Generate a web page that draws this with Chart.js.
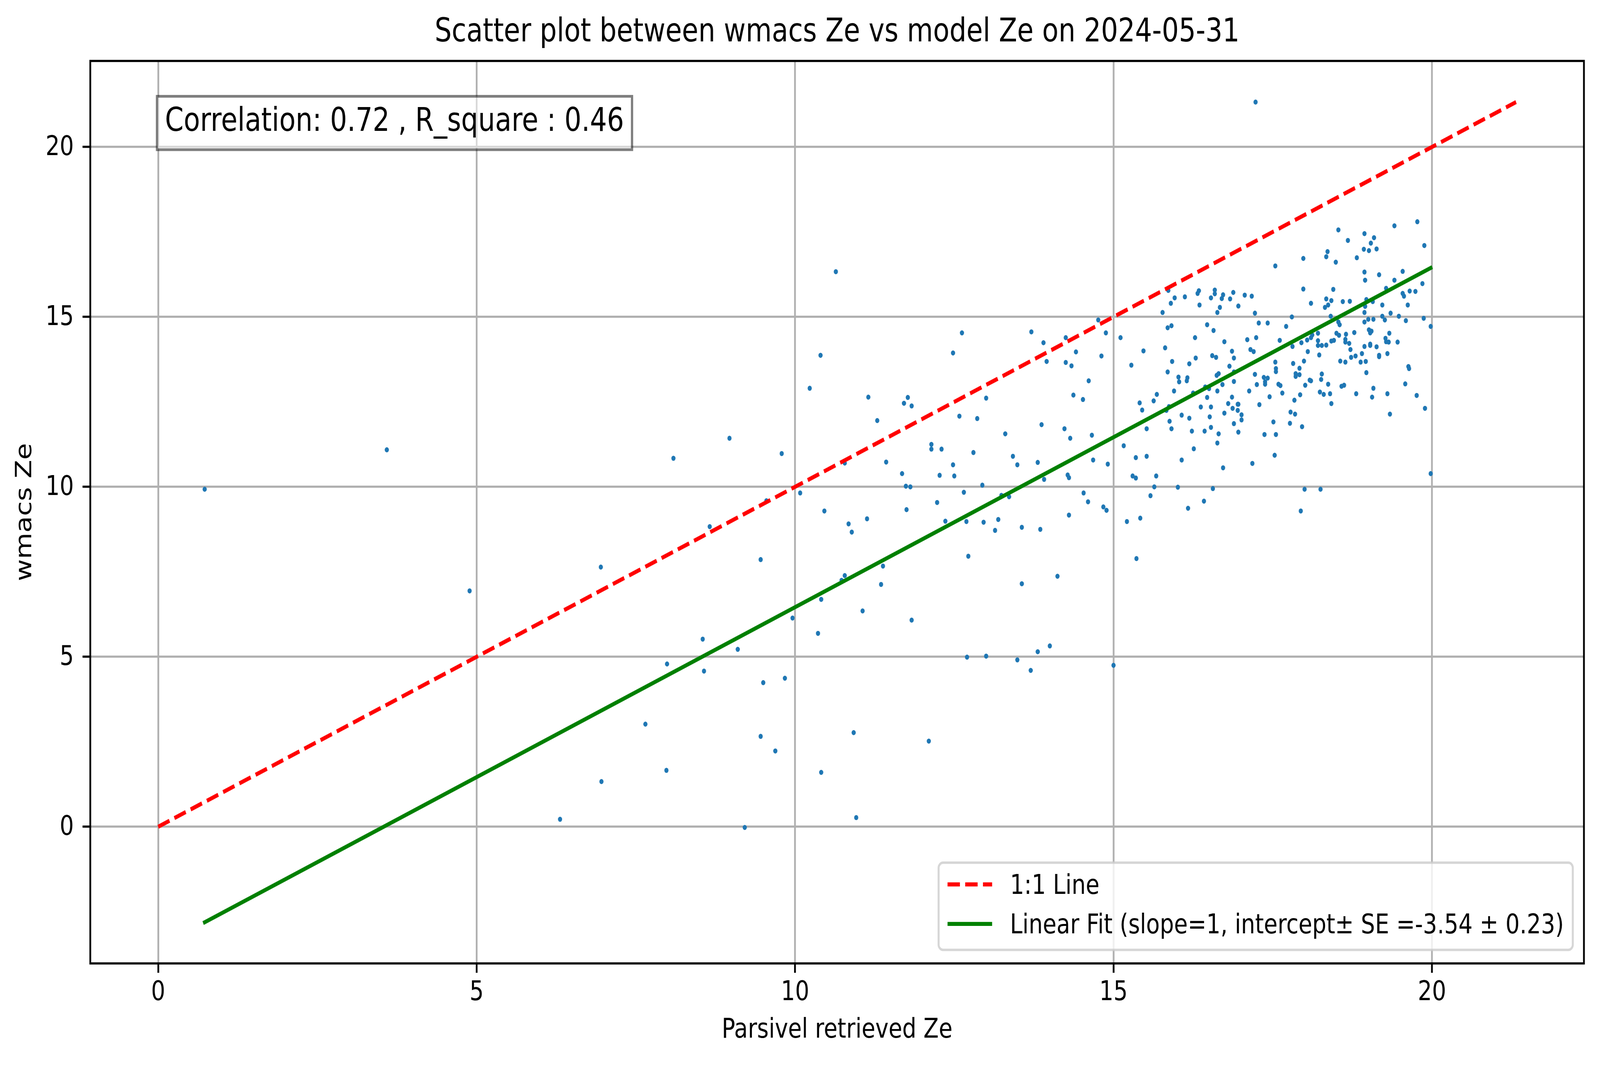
<!DOCTYPE html>
<html>
<head>
<meta charset="utf-8">
<title>Scatter plot between wmacs Ze vs model Ze on 2024-05-31</title>
<script src="https://cdn.jsdelivr.net/npm/chart.js@4.4.8/dist/chart.umd.min.js"></script>
<style>
  html, body { margin: 0; padding: 0; background: #fff; overflow: hidden; }
  canvas { display: block; }
</style>
</head>
<body>
<!-- drawn at the figure's own 4981x2726 size, then fitted to the window -->
<canvas id="myChart" width="4981" height="2726" style="width:100vw;height:100vh"></canvas>
<script>
  'use strict';

  // --- data ---
  const chartTitle = 'Scatter plot between wmacs Ze vs model Ze on 2024-05-31';
  const xAxisTitle = 'Parsivel retrieved Ze';
  const yAxisTitle = 'wmacs Ze';
  const noteText = 'Correlation: 0.72 , R_square : 0.46';
  const lineLabel = '1:1 Line';
  const fitLabel = 'Linear Fit (slope=1, intercept\u00b1 SE =-3.54 \u00b1 0.23)';

  const xTickValues = [0, 5, 10, 15, 20];
  const yTickValues = [0, 5, 10, 15, 20];

  // Parsivel retrieved Ze (x) and wmacs Ze (y), one entry per dot
  const parsivelZe = [
    // sparse points, left part
    0.73, 3.59, 4.89, 6.95, 8.09, 8.97, 8.66, 9.46, 9.55, 8.55, 9.10, 7.99, 8.57, 9.50, 7.65, 9.46, 9.69, 7.98, 6.96, 6.31, 9.21,
    // low points 10..14
    10.41, 9.96, 10.36, 11.06, 11.83, 9.84, 10.92, 12.10, 10.41, 10.96, 12.70, 13.00, 13.49, 13.70, 13.81, 14.00,
    // middle 10..14.7
    10.64, 10.40, 10.23, 9.79, 10.08, 10.46, 10.78, 10.84, 10.89, 11.13, 11.15, 11.29, 11.43, 11.38, 10.78, 10.73, 11.35,
    11.68, 11.74, 11.81, 11.75, 11.71, 11.77, 11.83, 12.14, 12.14, 12.30, 12.27, 12.23, 12.36, 12.48, 12.62, 12.58, 12.48,
    12.50, 12.65, 12.69, 12.72, 12.80, 12.86, 13.00, 12.94, 12.96, 13.14, 13.19, 13.24, 13.36, 13.30, 13.42, 13.49, 13.71,
    13.90, 13.95, 13.87, 13.81, 13.91, 13.56, 13.85, 13.56, 14.12, 14.25, 14.25, 14.34, 14.41, 14.37, 14.52, 14.61, 14.23,
    14.32, 14.28, 14.30, 14.53, 14.60, 14.30,
    // outliers right
    15.36, 15.00, 17.23,
    // dense cloud 14.7..17.7
    14.76, 14.88, 14.81, 14.66, 14.68, 14.91, 14.84, 14.89, 15.11, 15.28,
    15.47, 15.41, 15.45, 15.63, 15.68, 15.52, 15.16, 15.35, 15.52, 15.30,
    15.35, 15.67, 15.64, 15.58, 15.21, 15.42, 15.77, 15.86, 15.90, 15.96,
    16.12, 15.85, 15.91, 15.81, 15.92, 15.85, 15.95, 15.87, 15.83, 15.88,
    15.91, 16.07, 16.07, 16.01, 16.02, 16.03, 16.16, 16.15, 16.19, 16.19,
    16.23, 16.26, 16.17, 16.28, 16.29, 16.25, 16.32, 16.34, 16.35, 16.47,
    16.37, 16.44, 16.50, 16.47, 16.53, 16.51, 16.53, 16.43, 16.42, 16.56,
    16.53, 16.59, 16.59, 16.57, 16.55, 16.61, 16.63, 16.67, 16.70, 16.72,
    16.74, 16.62, 16.65, 16.71, 16.63, 16.65, 16.63, 16.72, 16.74, 16.80,
    16.83, 16.88, 16.96, 16.82, 16.86, 16.89, 16.89, 16.89, 16.86, 16.87,
    16.95, 16.96, 16.95, 17.01, 17.01, 16.89, 16.96, 17.06, 17.17, 17.22,
    17.10, 17.15, 17.20, 17.24, 17.28, 17.42, 17.22, 17.25, 17.13, 17.29,
    17.18, 17.36, 17.42, 17.38, 17.38, 17.45, 17.51, 17.37, 17.55, 17.53,
    17.54, 17.61, 17.54, 17.55, 17.55, 17.59, 17.62, 17.65,
    // dense cloud 17.7..20
    17.71, 17.80, 17.81, 17.82, 17.86, 17.86, 17.92, 17.92, 17.84, 17.78,
    17.85, 17.77, 17.93, 17.96, 17.94, 18.00, 17.98, 17.98, 17.95, 17.99,
    18.01, 18.05, 18.04, 18.10, 18.12, 18.10, 18.08, 18.10, 18.21, 18.21,
    18.21, 18.27, 18.23, 18.27, 18.26, 18.24, 18.30, 18.25, 18.34, 18.37,
    18.40, 18.42, 18.34, 18.37, 18.32, 18.34, 18.36, 18.42, 18.45, 18.41,
    18.49, 18.53, 18.42, 18.46, 18.50, 18.54, 18.53, 18.55, 18.60, 18.56,
    18.58, 18.62, 18.65, 18.64, 18.64, 18.70, 18.72, 18.64, 18.73, 18.68,
    18.71, 18.78, 18.80, 18.81, 18.82, 18.88, 18.90, 18.94, 18.96, 18.97,
    18.94, 18.93, 19.01, 19.04, 19.09, 19.13, 18.94, 18.95, 18.97, 18.95,
    18.94, 18.94, 19.00, 19.07, 19.08, 19.01, 19.05, 19.03, 19.03, 19.03,
    19.08, 19.06, 19.13, 19.17, 19.17, 19.17, 19.22, 19.22, 19.26, 19.28,
    19.27, 19.28, 19.32, 19.30, 19.30, 19.34, 19.35, 19.33, 19.41, 19.41,
    19.46, 19.48, 19.54, 19.54, 19.56, 19.62, 19.59, 19.65, 19.63, 19.64,
    19.58, 19.74, 19.77, 19.76, 19.85, 19.88, 19.87, 19.89, 19.98, 19.98
  ];
  const wmacsZe = [
    9.93, 11.09, 6.94, 7.64, 10.84, 11.43, 8.83, 7.86, 9.59, 5.52, 5.22, 4.79, 4.58, 4.24, 3.02, 2.66, 2.23, 1.66, 1.33, 0.22, -0.02,
    6.69, 6.14, 5.69, 6.35, 6.08, 4.37, 2.77, 2.52, 1.60, 0.27, 4.99, 5.02, 4.91, 4.60, 5.15, 5.32,
    16.33, 13.87, 12.90, 10.98, 9.82, 9.29, 10.70, 8.91, 8.67, 9.06, 12.64, 11.95, 10.73, 7.67, 7.39, 7.25, 7.13,
    10.39, 10.02, 10.00, 9.33, 12.46, 12.63, 12.38, 11.25, 11.11, 11.11, 10.34, 9.54, 8.99, 13.94, 14.53, 12.08, 10.65,
    10.32, 9.84, 8.98, 7.96, 11.01, 12.01, 12.61, 10.05, 8.96, 8.72, 9.04, 9.75, 9.71, 11.56, 10.90, 10.65, 14.56,
    14.24, 13.69, 11.83, 10.72, 10.22, 8.81, 8.75, 7.15, 7.37, 14.39, 13.66, 13.56, 13.97, 12.70, 12.57, 13.12, 11.71,
    11.43, 10.35, 10.27, 9.82, 9.56, 9.17,
    7.89, 4.75, 21.32,
    14.91, 14.53, 13.85, 11.52, 10.79, 10.67, 9.41, 9.31, 14.39, 13.58,
    14.00, 12.47, 12.26, 12.53, 12.72, 11.71, 11.21, 10.86, 10.90, 10.32,
    10.26, 10.32, 10.00, 9.74, 8.98, 9.08, 15.13, 15.78, 15.40, 15.56,
    15.59, 14.68, 14.74, 14.09, 13.69, 13.38, 12.82, 12.36, 12.25, 11.93,
    11.71, 12.11, 10.79, 9.99, 13.23, 13.09, 13.21, 13.12, 13.62, 12.02,
    11.64, 11.12, 9.37, 14.39, 13.79, 12.76, 15.69, 15.77, 15.35, 14.77,
    12.35, 12.94, 12.89, 12.63, 12.35, 12.06, 11.75, 11.64, 9.58, 9.95,
    15.56, 15.68, 15.79, 14.60, 13.86, 13.81, 15.13, 15.28, 15.54, 15.65,
    14.27, 13.28, 13.33, 13.01, 12.82, 11.56, 11.29, 10.56, 12.17, 12.45,
    15.53, 15.72, 15.32, 13.55, 13.99, 13.79, 13.38, 13.10, 12.64, 12.31,
    12.43, 12.43, 12.25, 12.12, 11.97, 11.86, 11.61, 15.64, 15.61, 15.11,
    14.33, 14.04, 13.98, 14.39, 14.82, 14.82, 13.31, 13.01, 12.82, 12.42,
    10.69, 13.22, 13.20, 13.09, 13.02, 12.65, 11.91, 11.54, 11.54, 10.93,
    16.50, 14.31, 13.67, 13.48, 13.39, 13.02, 12.98, 12.76,
    14.72, 15.00, 14.13, 13.63, 13.33, 13.25, 13.49, 13.30, 12.55, 12.20,
    12.14, 11.87, 12.71, 11.77, 9.29, 9.93, 16.72, 15.82, 14.24, 13.70,
    12.99, 13.98, 14.32, 14.39, 14.47, 15.40, 13.14, 13.12, 14.52, 14.30,
    14.16, 14.16, 13.88, 13.32, 13.16, 12.79, 12.72, 9.93, 14.17, 13.02,
    12.74, 12.45, 15.53, 15.35, 15.28, 16.77, 16.92, 15.48, 15.81, 15.02,
    16.61, 17.56, 14.29, 14.31, 14.52, 14.46, 14.85, 14.77, 15.45, 13.70,
    12.96, 12.99, 14.49, 14.34, 14.26, 14.22, 14.04, 13.67, 13.81, 17.25,
    15.46, 14.54, 13.85, 12.74, 16.74, 13.67, 13.92, 14.13, 13.69, 13.36,
    17.45, 16.99, 16.95, 17.17, 17.33, 17.00, 16.32, 16.08, 15.51, 15.31,
    15.13, 14.85, 14.93, 15.45, 14.93, 14.62, 14.58, 14.53, 14.20, 14.16,
    12.90, 12.64, 14.12, 16.24, 13.87, 13.83, 15.35, 15.02, 14.91, 15.84,
    14.37, 14.27, 14.26, 13.92, 12.74, 12.14, 15.11, 14.52, 17.68, 16.08,
    14.26, 15.02, 16.34, 15.69, 15.61, 15.35, 14.89, 15.76, 13.54, 13.48,
    13.03, 15.75, 17.80, 12.69, 15.98, 17.10, 14.96, 12.31, 14.72, 10.39
  ];

  // reference lines (end points)
  const oneToOneX = [0, 21.32];
  const oneToOneY = [0, 21.32];
  const fitX = [0.73, 19.98];
  const fitY = [-2.81, 16.44];

  // --- look ---
  const FONT = "'DejaVu Sans', sans-serif";
  const PT = 500 / 72;          // one typographic point at the picture's 500 dpi
  const TICK_PX = 10 * PT;
  const TITLE_PX = 12 * PT;

  function toPoints(xs, ys) {
    return xs.map((x, i) => ({ x: x, y: ys[i] }));
  }

  // black frame on all four sides, like the matplotlib spines
  const framePlugin = {
    id: 'frame',
    afterDraw(chart) {
      const c = chart.ctx, a = chart.chartArea;
      c.save();
      c.strokeStyle = '#000';
      c.lineWidth = 0.8 * PT;
      c.strokeRect(a.left, a.top, a.right - a.left, a.bottom - a.top);
      c.restore();
    }
  };

  // correlation text box in the upper left corner
  const notePlugin = {
    id: 'note',
    afterDraw(chart) {
      const c = chart.ctx, a = chart.chartArea;
      const tx = a.left + 0.05 * (a.right - a.left);
      const ttop = a.top + 0.05 * (a.bottom - a.top);
      const pad = 0.3 * TITLE_PX;
      c.save();
      c.font = TITLE_PX + 'px ' + FONT;
      const tw = c.measureText(noteText).width;
      const th = 1.04 * TITLE_PX;
      c.fillStyle = 'rgba(255,255,255,0.5)';
      c.fillRect(tx - pad, ttop - pad, tw + 2 * pad, th + 2 * pad);
      c.strokeStyle = 'rgba(0,0,0,0.5)';
      c.lineWidth = 1 * PT;
      c.strokeRect(tx - pad, ttop - pad, tw + 2 * pad, th + 2 * pad);
      c.fillStyle = '#000';
      c.textAlign = 'left';
      c.textBaseline = 'alphabetic';
      c.fillText(noteText, tx, ttop + 0.762 * TITLE_PX);
      c.restore();
    }
  };

  // legend box, lower right inside the plot
  const legendPlugin = {
    id: 'boxLegend',
    afterDraw(chart) {
      const c = chart.ctx, a = chart.chartArea;
      const fs = TICK_PX;
      const items = chart.data.datasets.filter(d => d.inLegend);
      c.save();
      c.font = fs + 'px ' + FONT;
      const textW = Math.max(...items.map(d => c.measureText(d.label).width));
      const pad = 0.4 * fs, handleLen = 2 * fs, handlePad = 0.8 * fs;
      const rowH = 66.4, spacing = 0.5 * fs, gap = 0.5 * fs;
      const w = pad + handleLen + handlePad + textW + pad;
      const h = 2 * pad + items.length * rowH + (items.length - 1) * spacing;
      const right = a.right - gap, bottom = a.bottom - gap;
      const left = right - w, top = bottom - h;
      const r = 0.2 * fs;

      c.beginPath();
      c.moveTo(left + r, top);
      c.lineTo(right - r, top);
      c.arcTo(right, top, right, top + r, r);
      c.lineTo(right, bottom - r);
      c.arcTo(right, bottom, right - r, bottom, r);
      c.lineTo(left + r, bottom);
      c.arcTo(left, bottom, left, bottom - r, r);
      c.lineTo(left, top + r);
      c.arcTo(left, top, left + r, top, r);
      c.closePath();
      c.fillStyle = 'rgba(255,255,255,0.8)';
      c.fill();
      c.strokeStyle = 'rgba(204,204,204,0.8)';
      c.lineWidth = 0.9 * PT;
      c.stroke();

      items.forEach((d, i) => {
        const cy = top + pad + 0.4 * fs + i * (rowH + spacing);
        c.beginPath();
        c.strokeStyle = d.borderColor;
        c.lineWidth = d.borderWidth;
        c.lineCap = 'butt';
        c.setLineDash(d.borderDash || []);
        c.moveTo(left + pad, cy);
        c.lineTo(left + pad + handleLen, cy);
        c.stroke();
        c.setLineDash([]);
        c.fillStyle = '#000';
        c.textAlign = 'left';
        c.textBaseline = 'alphabetic';
        c.fillText(d.label, left + pad + handleLen + handlePad, cy + 0.35 * fs);
      });
      c.restore();
    }
  };

  const gridOpts = {
    color: '#b0b0b0',
    lineWidth: 0.8 * PT,
    drawTicks: true,
    tickLength: 24,
    tickColor: '#000',
    tickWidth: 0.8 * PT
  };

  const ctx = document.getElementById('myChart');
  const chart = new Chart(ctx, {
    type: 'scatter',
    data: {
      datasets: [
        {
          label: lineLabel,
          type: 'line',
          inLegend: true,
          data: toPoints(oneToOneX, oneToOneY),
          borderColor: '#ff0000',
          backgroundColor: '#ff0000',
          borderWidth: 1.5 * PT,
          borderDash: [3.7 * 1.5 * PT, 1.6 * 1.5 * PT],
          borderCapStyle: 'butt',
          showLine: true,
          pointRadius: 0,
          fill: false,
          tension: 0,
          order: 1
        },
        {
          label: fitLabel,
          type: 'line',
          inLegend: true,
          data: toPoints(fitX, fitY),
          borderColor: '#008000',
          backgroundColor: '#008000',
          borderWidth: 1.5 * PT,
          borderCapStyle: 'square',
          showLine: true,
          pointRadius: 0,
          fill: false,
          tension: 0,
          order: 0
        },
        {
          label: yAxisTitle,
          inLegend: false,
          data: toPoints(parsivelZe, wmacsZe),
          backgroundColor: '#1f77b4',
          borderColor: '#1f77b4',
          pointRadius: 6.5,
          pointHoverRadius: 6.5,
          pointBorderWidth: 0,
          order: 2
        }
      ]
    },
    options: {
      responsive: false,
      animation: false,
      devicePixelRatio: 1,
      events: [],
      layout: { padding: { left: 0, right: 50, top: 0, bottom: 0 } },
      plugins: {
        legend: { display: false },
        tooltip: { enabled: false },
        title: {
          display: true,
          text: chartTitle,
          color: '#000',
          fullSize: false,
          font: { family: FONT, size: TITLE_PX, weight: 'normal', lineHeight: 1.2 },
          padding: { top: 34, bottom: 22 }
        }
      },
      scales: {
        x: {
          type: 'linear',
          min: -1.066,
          max: 22.386,
          afterBuildTicks: s => { s.ticks = xTickValues.map(v => ({ value: v })); },
          afterFit: s => { s.height = 260; },
          grid: gridOpts,
          border: { display: false },
          ticks: {
            color: '#000',
            font: { family: FONT, size: TICK_PX, lineHeight: 1.2 },
            padding: 10,
            maxRotation: 0,
            autoSkip: false
          },
          title: {
            display: true,
            text: xAxisTitle,
            color: '#000',
            font: { family: FONT, size: TICK_PX, lineHeight: 1.2 },
            padding: { top: 0, bottom: 46 }
          }
        },
        y: {
          type: 'linear',
          min: -4.02,
          max: 22.53,
          afterBuildTicks: s => { s.ticks = yTickValues.map(v => ({ value: v })); },
          afterFit: s => { s.width = 281; },
          grid: gridOpts,
          border: { display: false },
          ticks: {
            color: '#000',
            font: { family: FONT, size: TICK_PX, lineHeight: 1.2 },
            padding: 27,
            labelOffset: 3,
            autoSkip: false
          },
          title: {
            display: true,
            text: yAxisTitle,
            color: '#000',
            font: { family: FONT, size: TICK_PX, lineHeight: 1.2 },
            padding: { top: 37, bottom: 0 }
          }
        }
      }
    },
    plugins: [framePlugin, notePlugin, legendPlugin]
  });
</script>
</body>
</html>
